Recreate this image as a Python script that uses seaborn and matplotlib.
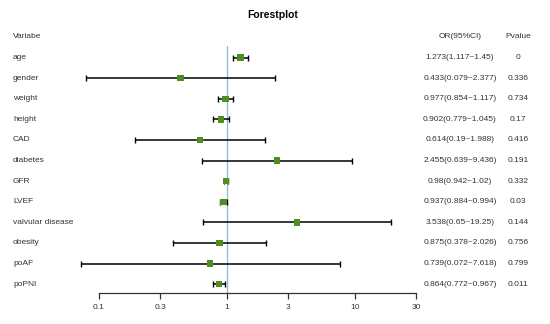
import matplotlib
matplotlib.use("Agg")
import matplotlib.pyplot as plt
import seaborn as sns
import pandas as pd
import numpy as np

variables = ["age", "gender", "weight", "height", "CAD", "diabetes", "GFR", "LVEF",
             "valvular disease", "obesity", "poAF", "poPNI"]
or_vals = [1.273, 0.433, 0.977, 0.902, 0.614, 2.455, 0.98, 0.937, 3.538, 0.875, 0.739, 0.864]
ci_low = [1.117, 0.079, 0.854, 0.779, 0.19, 0.639, 0.942, 0.884, 0.65, 0.378, 0.072, 0.772]
ci_high = [1.45, 2.377, 1.117, 1.045, 1.988, 9.436, 1.02, 0.994, 19.25, 2.026, 7.618, 0.967]
or_text = ["1.273(1.117~1.45)", "0.433(0.079~2.377)", "0.977(0.854~1.117)", "0.902(0.779~1.045)",
           "0.614(0.19~1.988)", "2.455(0.639~9.436)", "0.98(0.942~1.02)", "0.937(0.884~0.994)",
           "3.538(0.65~19.25)", "0.875(0.378~2.026)", "0.739(0.072~7.618)", "0.864(0.772~0.967)"]
pvalues = ["0", "0.336", "0.734", "0.17", "0.416", "0.191", "0.332", "0.03", "0.144",
           "0.756", "0.799", "0.011"]
xticks = [0.1, 0.3, 1, 3, 10, 30]
xticklabels = ["0.1", "0.3", "1", "3", "10", "30"]

df = pd.DataFrame({"var": variables, "OR": or_vals, "lo": ci_low, "hi": ci_high,
                   "row": np.arange(1, len(variables) + 1)})

sns.set_style("white")
plt.rcParams["font.family"] = ["Liberation Sans", "DejaVu Sans"]

fig = plt.figure(figsize=(5.5, 3.24), dpi=100)
W, H = 550, 324
left_px, right_px = 99, 416
top_px, bot_px = 46, 293
ax = fig.add_axes([left_px / W, 1 - bot_px / H, (right_px - left_px) / W, (bot_px - top_px) / H])

# row pixel y = 37 + 20.6*i
row0_px, step_px = 37, 20.6
y_top = (top_px - row0_px) / step_px
y_bot = (bot_px - row0_px) / step_px

ax.axvline(1, color="#8dbccd", lw=0.9, zorder=1)
ax.hlines(df["row"], df["lo"], df["hi"], color="black", lw=1.1, zorder=2, clip_on=False)
ax.plot(df["lo"], df["row"], linestyle="none", marker="|", color="black", ms=4, mew=1.0,
        zorder=2, clip_on=False)
ax.plot(df["hi"], df["row"], linestyle="none", marker="|", color="black", ms=4, mew=1.0,
        zorder=2, clip_on=False)
sns.scatterplot(data=df, x="OR", y="row", marker="s", color="#4f8f1f", s=22,
                edgecolor="none", zorder=3, ax=ax, legend=False)

ax.set_xscale("log")
ax.set_xlim(0.1, 30)
ax.set_ylim(y_bot, y_top)
ax.set_xticks(xticks)
ax.set_xticklabels(xticklabels)
ax.minorticks_off()
ax.set_yticks([])
ax.set_xlabel("")
ax.set_ylabel("")
for s in ["top", "left", "right"]:
    ax.spines[s].set_visible(False)
ax.spines["bottom"].set_color("#333333")
ax.spines["bottom"].set_linewidth(0.9)
ax.tick_params(axis="x", bottom=True, direction="out", length=4, width=0.9,
               color="#333333", labelsize=6, labelcolor="#333333", pad=4)
ax.patch.set_alpha(0)

def fy(i):
    return 1 - (row0_px + step_px * i) / H

txtc = "#333333"
fs = 6
fig.text(272.5 / W, 1 - 15 / H, "Forestplot", ha="center", va="center", fontsize=7.5,
         fontweight="bold", color="black")
fig.text(13 / W, fy(0), "Variabe", ha="left", va="center", fontsize=fs, color=txtc)
fig.text(460 / W, fy(0), "OR(95%CI)", ha="center", va="center", fontsize=fs, color=txtc)
fig.text(518 / W, fy(0), "Pvalue", ha="center", va="center", fontsize=fs, color=txtc)
for i, (v, t, p) in enumerate(zip(variables, or_text, pvalues), start=1):
    fig.text(13 / W, fy(i), v, ha="left", va="center", fontsize=fs, color=txtc)
    fig.text(460 / W, fy(i), t, ha="center", va="center", fontsize=fs, color=txtc)
    fig.text(518 / W, fy(i), p, ha="center", va="center", fontsize=fs, color=txtc)

fig.savefig("out.png", dpi=100)
